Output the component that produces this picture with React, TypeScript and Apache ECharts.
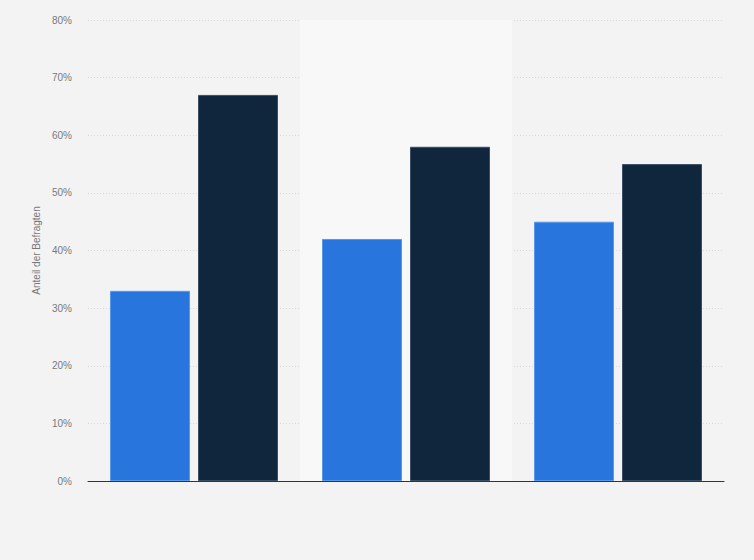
import React, { useEffect, useRef } from "react";
import * as echarts from "echarts";

const categories = ["Gruppe 1", "Gruppe 2", "Gruppe 3"];
const seriesA = [33, 42, 45];
const seriesB = [67, 58, 55];
const yTicks = [0, 10, 20, 30, 40, 50, 60, 70, 80];

export default function App() {
  const ref = useRef<HTMLDivElement>(null);
  useEffect(() => {
    const chart = echarts.init(ref.current!, null, { renderer: "svg" });
    chart.setOption({
      animation: false,
      backgroundColor: "#f3f3f3",
      textStyle: { fontFamily: "Liberation Sans, Arial, sans-serif" },
      grid: { left: 88, right: 30, top: 20, bottom: 79 },
      xAxis: {
        type: "category",
        data: categories,
        axisLine: { show: true, lineStyle: { color: "#333333", width: 1 } },
        axisTick: { show: false },
        axisLabel: { show: false },
        splitArea: { show: true, areaStyle: { color: ["rgba(0,0,0,0)", "#f8f8f8"] } },
      },
      yAxis: {
        type: "value",
        min: yTicks[0],
        max: yTicks[yTicks.length - 1],
        interval: 10,
        name: "Anteil der Befragten",
        nameLocation: "middle",
        nameGap: 42,
        nameTextStyle: { color: "#777777", fontSize: 10 },
        axisLine: { show: false },
        axisTick: { show: false },
        axisLabel: { color: "#7a7a7a", fontSize: 10, formatter: "{value}%", margin: 16 },
        splitLine: { lineStyle: { color: "#d8d8d8", type: [1, 2], width: 1 } },
      },
      series: [
        {
          type: "bar",
          data: seriesA,
          barWidth: 80,
          barGap: "10%",
          itemStyle: { color: "#2876dd", borderColor: "#5a97e6", borderWidth: 1 },
        },
        {
          type: "bar",
          data: seriesB,
          barWidth: 80,
          barGap: "10%",
          itemStyle: { color: "#10263d", borderColor: "#3a4e64", borderWidth: 1 },
        },
      ],
    });
    return () => chart.dispose();
  }, []);
  return (
    <div
      ref={ref}
      style={{ position: "fixed", left: 0, top: 0, width: 754, height: 560 }}
    />
  );
}
